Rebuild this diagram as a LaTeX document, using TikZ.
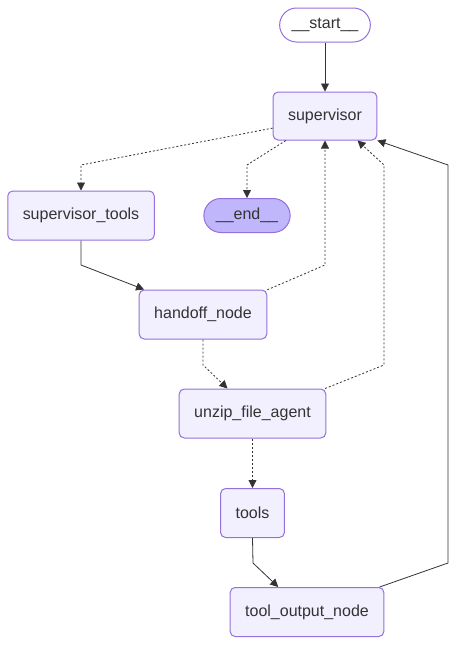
\documentclass[tikz,border=0pt]{standalone}
\usepackage{fontspec}
\setmainfont{Liberation Sans}
\usetikzlibrary{arrows.meta}

\definecolor{nodefill}{HTML}{F2F0FF}
\definecolor{nodeline}{HTML}{9370DB}
\definecolor{endfill}{HTML}{BFB6FC}
\definecolor{ink}{HTML}{333333}

\tikzset{
  graphnode/.style={draw=nodeline,fill=nodefill,line width=1pt,rounded corners=5pt,
    minimum height=49pt,inner xsep=15pt,text=ink,font=\fontsize{16}{19}\selectfont},
  termnode/.style={graphnode,minimum height=34pt,inner xsep=12pt,rounded corners=17pt,fill=white},
  solidedge/.style={draw=ink,line width=0.8pt,-{Triangle[length=8pt,width=8pt]}},
  dotedge/.style={solidedge,dash pattern=on 2pt off 2pt}
}

\begin{document}
\begin{tikzpicture}[x=1pt,y=-1pt]
  \useasboundingbox (0,0) rectangle (457,645);
  \node[termnode] (start) at (325,25) {\_\_start\_\_};
  \node[graphnode,minimum height=48pt] (sup) at (325,116) {supervisor};
  \node[graphnode] (suptools) at (81,215.5) {supervisor\_tools};
  \node[termnode,fill=endfill] (end) at (247,215.5) {\_\_end\_\_};
  \node[graphnode] (handoff) at (203,314.5) {handoff\_node};
  \node[graphnode] (unzip) at (252.5,413.5) {unzip\_file\_agent};
  \node[graphnode] (tools) at (252.5,513) {tools};
  \node[graphnode] (toolout) at (307,612) {tool\_output\_node};

  \draw[solidedge] (start) -- (sup);
  \draw[dotedge] (sup.193) -- (81,165) -- (suptools.north);
  \draw[dotedge] (sup.212) -- (247,165) -- (end.north);
  \draw[solidedge] (suptools.south) -- (81,265) -- (handoff.157);
  \draw[dotedge] (handoff.21) -- (325,265) -- (sup.south);
  \draw[dotedge] (handoff.south) -- (203,365) -- (unzip.135);
  \draw[dotedge] (unzip.19) -- (384,365) -- (384,165) -- (sup.-37);
  \draw[dotedge] (unzip.south) -- (tools.north);
  \draw[solidedge] (tools.south) -- (253,563) -- (toolout.139);
  \draw[solidedge] (toolout.19) -- (448,563) -- (448,165) -- (sup.south east);
\end{tikzpicture}
\end{document}
